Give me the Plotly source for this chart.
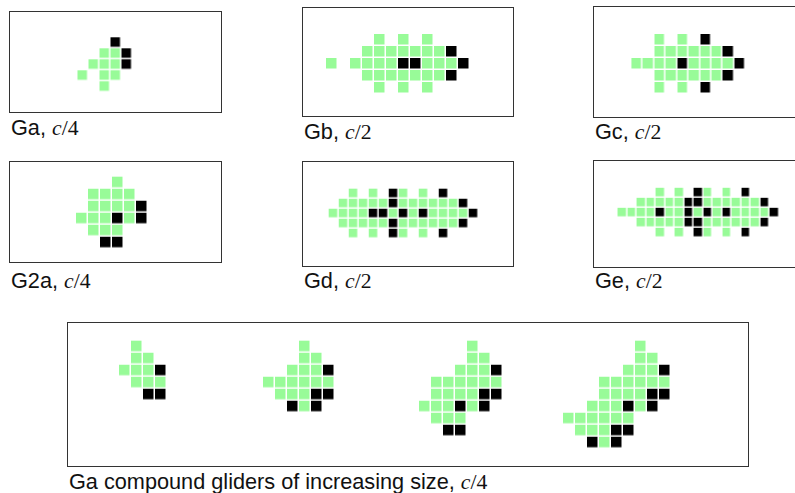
import plotly.graph_objects as go

# ---------------- data: glider patterns ('.' empty, 'g' live/green, 'k' black) -------------
Ga = ["...k.",
      "..ggk",
      ".gggk",
      "g.gg.",
      "..g.."]

Gb = ["....g.g.g...",
      "...gggggggk.",
      "g.ggggkkgggk",
      "...gggggggk.",
      "....g.g.g..."]

Gc = ["..g.g.k...",
      "..ggggggk.",
      "ggggkggggk",
      "..ggggggk.",
      "..g.g.k..."]

G2a = ["...g..",
       ".gggg.",
       ".ggggk",
       "gggkgk",
       ".ggg..",
       "..kk.."]

Gd = ["..g.g.kg.g.k...",
      ".gggggkggggggk.",
      "ggggkkgkgkggggk",
      ".gggggkggggggk.",
      "..g.g.kg.g.k..."]

Ge = ["....g.g.kg.g.k...",
      "..gggggkkggggggk.",
      "ggggkggkgkgkggggk",
      "..gggggkkggggggk.",
      "....g.g.kg.g.k..."]

C1 = [".g..",
      ".gg.",
      "gggk",
      ".ggg",
      "..kk"]

C2 = ["...g..",
      "...gg.",
      "..gggk",
      "gggggg",
      ".gggkk",
      "..kgk."]

C3 = ["....g..",
      "....gg.",
      "...gggk",
      ".gggggg",
      ".ggggkk",
      "gggkgk.",
      ".ggg...",
      "..kk..."]

C4 = ["......g..",
      "......gg.",
      ".....gggk",
      "...gggggg",
      "...ggggkk",
      "..gggkgk.",
      "gggggg...",
      ".gggkk...",
      "..kgk...."]

labels = ["Ga", "Gb", "Gc", "G2a", "Gd", "Ge",
          "Ga compound gliders of increasing size"]
speeds = ["4", "2", "2", "4", "2", "2", "4"]

# ---------------- layout (pixels) ------------------------------------------------------------
W, H = 795, 493
GREEN = "#98fb98"
BLACK = "#000000"

compound_cols = [0, 12, 25, 37]


def compose(parts, offsets):
    nrows = max(len(p) for p in parts)
    ncols = max(o + len(p[0]) for p, o in zip(parts, offsets))
    grid = [["."] * ncols for _ in range(nrows)]
    for p, o in zip(parts, offsets):
        for r, row in enumerate(p):
            for c, ch in enumerate(row):
                if ch != ".":
                    grid[r][o + c] = ch
    return ["".join(r) for r in grid]


Gcomp = compose([C1, C2, C3, C4], compound_cols)
patterns = [Ga, Gb, Gc, G2a, Gd, Ge, Gcomp]

# box: (left, right, top, bottom) px, cell pitch px, centre of col 0 / row 0 px,
# right border visible?, label centre y
panels = [
    ((10, 221, 12, 112), 11, 83.0, 42.8, True, 127.5),
    ((303, 513, 8, 116), 12, 332.0, 40.0, True, 131.0),
    ((594, 805, 7, 116.5), 12, 639.3, 40.0, False, 131.0),
    ((10, 221, 162, 262), 12, 82.0, 182.7, True, 280.5),
    ((303, 513, 162, 266), 10, 333.7, 193.7, True, 280.5),
    ((594, 805, 161, 266.5), 10, 623.7, 192.8, False, 280.5),
    ((68, 748, 323, 466), 12, 125.0, 346.7, True, 481.0),
]

fig = go.Figure()
code = {"g": 1, "k": 2}

for i, (pat, (box, p, cx0, cy0, right, ly)) in enumerate(zip(patterns, panels)):
    n = "" if i == 0 else str(i + 1)
    z = [[code.get(ch) for ch in row] for row in pat]
    fig.add_trace(go.Heatmap(
        z=z, x=list(range(len(pat[0]))), y=list(range(len(pat))),
        xaxis="x" + n, yaxis="y" + n,
        colorscale=[[0, GREEN], [0.5, GREEN], [0.5, BLACK], [1, BLACK]],
        zmin=1, zmax=2, showscale=False, xgap=1.5, ygap=1.5,
        hoverinfo="skip"))
    x0, x1, y0, y1 = box
    xr = [(x0 - cx0) / p, (x1 - cx0) / p]
    yr = [(y1 - cy0) / p, (y0 - cy0) / p]
    ax = dict(showline=True, linecolor="#333333", linewidth=1.4,
              showgrid=False, zeroline=False, showticklabels=False, ticks="",
              fixedrange=True)
    fig.layout["xaxis" + n] = dict(ax, domain=[x0 / W, min(x1 / W, 1.0)],
                                   range=xr, mirror=True, anchor="y" + n)
    fig.layout["yaxis" + n] = dict(ax, domain=[1 - y1 / H, 1 - y0 / H],
                                   range=yr, mirror=right, anchor="x" + n)
    fig.add_annotation(
        xref="paper", yref="paper", x=x0 / W, y=1 - ly / H,
        xanchor="left", yanchor="middle", showarrow=False, borderpad=0,
        text=labels[i] + ', <span style="font-family:Liberation Serif"><i>c</i>/'
             + speeds[i] + "</span>",
        font=dict(family="Liberation Sans", size=21.7, color="#111111"))

fig.update_layout(width=W, height=H, margin=dict(l=0, r=0, t=0, b=0),
                  paper_bgcolor="white", plot_bgcolor="white", showlegend=False)

fig.write_html("out.html", config={"displayModeBar": False},
               post_script="document.body.style.margin='0';"
                           "document.body.style.overflow='hidden';")
